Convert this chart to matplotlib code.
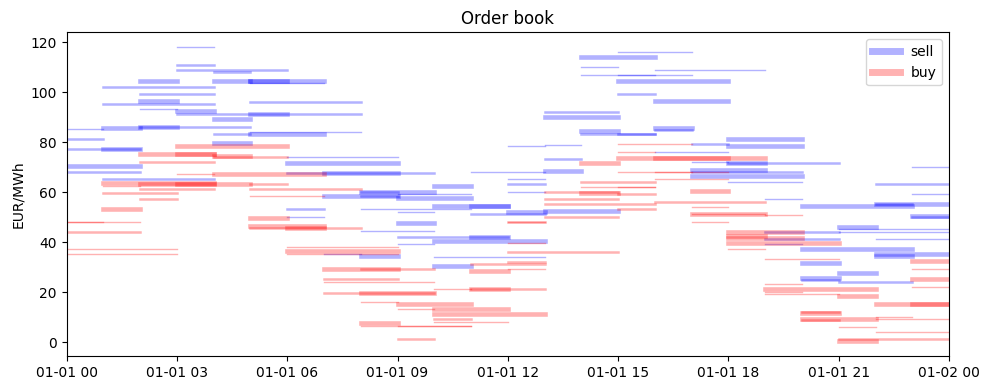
import matplotlib
matplotlib.use("Agg")
import matplotlib.pyplot as plt
import matplotlib.dates as mdates
from matplotlib.lines import Line2D
from datetime import datetime, timedelta

# sell orders: start hour, duration (h), price, volume
sell_start = [3, 3, 3, 4, 2, 4, 5, 5, 5, 1,
              2, 2, 1, 2, 3, 3, 5, 4, 2, 1,
              0, 2, 4, 5, 5, 0, 4, 0, 1, 0,
              0, 1, 5, 6, 6, 6, 7, 8, 8, 9,
              7, 8, 9, 6, 6, 7, 8,
              11, 10, 10, 11, 8, 9, 11, 9, 8, 9, 11, 10, 9, 10, 10,
              15, 14, 14, 14, 15, 16, 15, 15, 16, 13,
              13, 14, 14, 15, 16, 16, 12, 13, 17, 16,
              13, 13, 12, 12, 12, 13, 12,
              18, 18, 17, 18, 18, 17, 17, 17, 18, 19, 19, 19, 19,
              23, 22, 23, 22, 22, 20, 23, 23, 21, 21,
              21, 22, 20, 22, 22, 20, 21, 20, 20, 21]
sell_hours = [1, 1, 3, 1, 1, 1, 2, 1, 2, 3,
              2, 1, 3, 1, 1, 5, 1, 1, 3, 1,
              1, 1, 1, 2, 3, 1, 1, 2, 1, 2,
              2, 3, 3, 3, 3, 4, 2, 2, 1, 2,
              2, 1, 2, 1, 1, 1, 1,
              2, 1, 2, 1, 3, 1, 2, 1, 2, 3, 1, 3, 1, 3, 1,
              2, 2, 1, 3, 1, 3, 3, 1, 2, 2,
              2, 1, 2, 1, 1, 1, 1, 1, 1, 2,
              1, 1, 1, 1, 1, 2, 1,
              2, 2, 1, 1, 3, 2, 3, 3, 2, 1, 2, 2, 1,
              1, 2, 1, 2, 1, 3, 1, 1, 1, 3,
              3, 2, 3, 2, 1, 1, 1, 1, 1, 2]
sell_price = [118, 111, 109, 108, 104.3, 104.3, 104.3, 104.3, 103.5, 102,
              99.2, 96.3, 95.3, 93.2, 92.5, 91.3, 91.3, 89.3, 86, 85.5,
              85.3, 85.9, 83.2, 83.3, 84, 81.3, 79.6, 77.3, 77.3, 70.3,
              68, 65.3, 96.1, 74.1, 71.5, 67.7, 67.5, 60.1, 60.1, 59.3,
              58.3, 58.3, 57.5, 53.3, 50, 35.3, 34.3,
              68.1, 62.3, 54.3, 54.3, 53.3, 52.1, 51.3, 47.5, 44.5, 42, 42, 40.3, 39.3, 34, 30.3,
              116, 114, 110, 107, 107, 108.8, 104.3, 99.2, 96.3, 92,
              90.1, 84.3, 83.3, 83.3, 85.5, 84.8, 78.4, 79, 79.2, 76,
              73.2, 68.3, 65.2, 63.2, 60, 52.4, 52,
              81.3, 78.3, 72, 71.5, 71.5, 68.7, 68.1, 66.3, 64, 57.2, 44, 41.3, 39.3,
              70.1, 63.2, 59.2, 55.3, 55.3, 54.3, 50.3, 50, 46.1, 45.2,
              44.2, 41.2, 37.3, 35.3, 34.3, 31.5, 27.5, 25.5, 24.7, 23.9]
sell_volume = [1, 2, 2, 2, 4, 4, 4, 4, 1, 2,
               2, 4, 2, 1, 4, 2, 4, 4, 2, 4,
               1, 4, 2, 4, 1, 2, 4, 2, 4, 4,
               2, 2, 2, 1, 4, 2, 4, 4, 2, 1,
               4, 2, 4, 2, 1, 1, 4,
               1, 4, 4, 4, 1, 1, 2, 4, 1, 2, 4, 4, 1, 1, 4,
               1, 4, 1, 1, 1, 1, 4, 2, 4, 2,
               4, 4, 2, 2, 4, 2, 1, 1, 2, 1,
               2, 4, 1, 2, 1, 4, 4,
               4, 4, 1, 4, 2, 4, 2, 4, 1, 1, 2, 2, 1,
               1, 2, 1, 4, 2, 4, 4, 2, 4, 1,
               1, 1, 4, 4, 4, 4, 4, 4, 2, 2]

# buy orders: start hour, duration (h), price, volume
buy_start = [3, 2, 3, 4, 4, 2, 3, 4, 1, 2,
             3, 5, 1, 2, 5, 1, 2, 1, 0, 0,
             0, 0, 0, 5, 5, 5, 5, 6, 6, 6,
             6, 7, 8, 7, 7, 7, 8, 8, 8, 9, 8,
             11, 12, 11, 10, 11, 11, 9, 9, 10, 10, 10, 10, 9,
             15, 15, 15, 16, 14, 15, 16, 14, 14, 15,
             13, 14, 15, 13, 13, 15, 13, 12, 12, 12, 12, 12,
             16, 17, 16, 17, 17, 17, 19, 17, 18, 18,
             18, 18, 18, 19, 19, 19, 19, 19,
             23, 23, 23, 23, 21, 22, 23, 20, 20, 20,
             20, 22, 22, 21, 22, 21, 21]
buy_hours = [3, 2, 1, 1, 2, 2, 1, 3, 3, 3,
             1, 1, 1, 2, 3, 2, 1, 1, 2, 1,
             2, 3, 3, 2, 1, 2, 3, 1, 3, 3,
             3, 2, 2, 2, 3, 3, 2, 1, 3, 2, 1,
             2, 1, 1, 1, 1, 2, 2, 1, 2, 3, 1, 2, 1,
             2, 1, 4, 2, 1, 2, 2, 2, 2, 1,
             2, 1, 1, 2, 3, 1, 2, 1, 1, 1, 3, 1,
             2, 1, 3, 1, 2, 2, 1, 1, 2, 1,
             2, 3, 1, 2, 1, 3, 1, 2,
             1, 1, 1, 1, 1, 2, 1, 1, 1, 2,
             1, 1, 2, 1, 2, 3, 1]
buy_price = [78.3, 75.3, 75.3, 74.5, 74, 72, 67.3, 67.3, 63.5, 63.3,
             63.3, 63.2, 62.5, 61.3, 61.3, 59.5, 57.2, 53.3, 48, 48,
             44, 37.2, 35.2, 58.3, 49.5, 46.3, 45.5, 45.6, 38.1, 36.3,
             35.3, 29.3, 29.3, 25.3, 24, 19.5, 19.5, 7.6, 6.3, 6.3, 16,
             31.2, 31.9, 28.4, 21.3, 21.3, 21.3, 15.3, 13.2, 13.3, 11.3, 9.2, 8, 1.2,
             79.2, 76, 73.5, 73.5, 71.5, 68, 68, 64, 62.1, 62.1,
             60.1, 59.5, 59.3, 57.2, 55.3, 53.3, 50, 48, 48, 39.5, 36, 29.2,
             65.3, 60.3, 56, 54, 51.3, 51.3, 51, 48, 44, 42.3,
             41.7, 39.5, 37.2, 33.2, 23.3, 21.3, 19.9, 19.2,
             32.3, 29.2, 25.3, 22, 18.3, 15.3, 15.3, 11.9, 11.5, 9.3,
             8.7, 10, 9.2, 6.1, 4, 1.2, 0.3]
buy_volume = [4, 4, 4, 4, 2, 2, 1, 4, 4, 4,
              4, 2, 1, 2, 2, 2, 2, 4, 1, 1,
              2, 1, 1, 1, 4, 4, 2, 4, 1, 4,
              1, 4, 2, 2, 1, 2, 4, 4, 1, 1, 1,
              2, 2, 4, 1, 4, 2, 4, 1, 4, 4, 2, 1, 2,
              1, 1, 4, 4, 4, 1, 1, 2, 1, 1,
              2, 4, 2, 2, 2, 2, 2, 2, 1, 1, 2, 1,
              1, 4, 2, 1, 4, 1, 1, 1, 4, 4,
              4, 4, 1, 1, 1, 4, 1, 1,
              4, 1, 4, 1, 4, 4, 4, 2, 4, 4,
              2, 1, 1, 1, 1, 2, 4]

base = datetime(2023, 1, 1)
width_for_volume = {1: 1.0, 2: 1.8, 4: 3.3}

fig, ax = plt.subplots(figsize=(9.89, 3.9), dpi=100)
fig.subplots_adjust(left=0.0674, right=0.9596, top=0.917, bottom=0.087)

for starts, hours, prices, vols, color in [
        (sell_start, sell_hours, sell_price, sell_volume, "blue"),
        (buy_start, buy_hours, buy_price, buy_volume, "red")]:
    for s, d, p, v in zip(starts, hours, prices, vols):
        t0 = base + timedelta(hours=s)
        t1 = t0 + timedelta(hours=d)
        ax.plot([t0, t1], [p, p], color=color, alpha=0.3, lw=width_for_volume[v])

ax.set_xlim(base, base + timedelta(hours=24))
ax.set_ylim(-5.6, 123.9)
ax.xaxis.set_major_locator(mdates.HourLocator(byhour=range(0, 24, 3)))
ax.xaxis.set_major_formatter(mdates.DateFormatter("%m-%d %H"))

ax.set_title("Order book")
ax.set_ylabel("EUR/MWh")

handles = [Line2D([], [], color="blue", alpha=0.3, lw=5),
           Line2D([], [], color="red", alpha=0.3, lw=5)]
ax.legend(handles, ["sell", "buy"], loc="upper right")

plt.savefig("out.png", dpi=100)
